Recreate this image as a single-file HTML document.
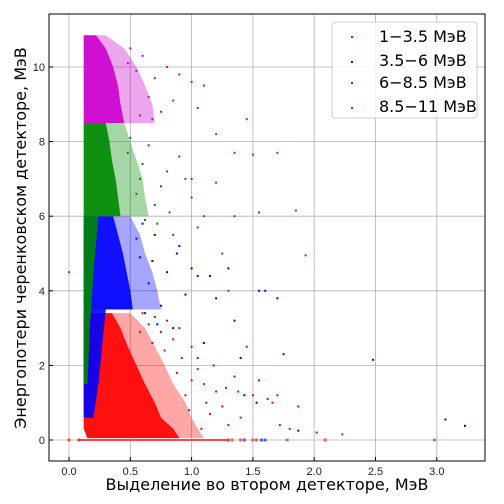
<!DOCTYPE html>
<html><head><meta charset="utf-8"><style>
body{margin:0;background:#fff}
svg{display:block;font-family:"Liberation Sans","DejaVu Sans",sans-serif}
</style></head><body>
<svg id="chart" width="504" height="504" viewBox="0 0 504 504">
<g id="grid"></g>
<g id="marks"></g>
<rect x="49" y="14" width="436" height="447" fill="none" stroke="#000" stroke-width="1"/>
<g id="ticks"></g>
<text x="267" y="490" font-size="16" text-anchor="middle" font-family="DejaVu Sans, sans-serif">Выделение во втором детекторе, МэВ</text>
<text transform="translate(26,238) rotate(-90)" font-size="16" text-anchor="middle" font-family="DejaVu Sans, sans-serif">Энергопотери черенковском детекторе, МэВ</text>
<g>
<rect x="332" y="22" width="145" height="96" rx="3" fill="#fff" fill-opacity="0.85" stroke="#ccc"/>
<g font-size="16" font-family="DejaVu Sans, sans-serif">
<rect x="351" y="36" width="2" height="2" fill="#f00"/>
<text x="379" y="42">1−3.5 МэВ</text>
<rect x="351" y="61" width="2" height="2" fill="#00f"/>
<text x="379" y="66">3.5−6 МэВ</text>
<rect x="351" y="82" width="2" height="2" fill="#080"/>
<text x="379" y="88">6−8.5 МэВ</text>
<rect x="351" y="107" width="2" height="2" fill="#c0c"/>
<text x="379" y="112">8.5−11 МэВ</text>
</g></g>
</svg>
<script>
const xTicks=[0,0.5,1.0,1.5,2.0,2.5,3.0];
const xTickLabels=["0.0","0.5","1.0","1.5","2.0","2.5","3.0"];
const yTicks=[0,2,4,6,8,10];
const yTickLabels=["0","2","4","6","8","10"];
const seriesNames=["red","blue","green","magenta"];
const seriesColors=["#f00","#00f","#080","#c0c"];
const redBandY=[0.05,0.3,0.6,1.0,1.5,2.0,2.5,3.0,3.4];
const redBandLo=[0.15,0.12,0.12,0.12,0.12,0.12,0.12,0.12,0.12];
const redBandHi=[0.9,0.85,0.75,0.7,0.62,0.55,0.48,0.42,0.35];
const redFringeHi=[1.1,1.05,1.0,0.95,0.85,0.78,0.7,0.62,0.5];
const blueBandY=[3.5,4.0,4.5,5.0,5.5,6.0];
const blueBandLo=[0.12,0.12,0.12,0.12,0.12,0.12];
const blueBandHi=[0.52,0.5,0.47,0.44,0.4,0.36];
const blueFringeHi=[0.75,0.72,0.68,0.62,0.58,0.5];
const blueStreakY=[0.6,1.5,2.5,3.5];
const blueStreakLo=[0.12,0.12,0.12,0.12];
const blueStreakHi=[0.2,0.24,0.27,0.3];
const greenBandY=[6.0,6.5,7.0,7.5,8.0,8.5];
const greenBandLo=[0.12,0.12,0.12,0.12,0.12,0.12];
const greenBandHi=[0.42,0.4,0.38,0.35,0.33,0.3];
const greenFringeHi=[0.65,0.62,0.6,0.55,0.5,0.45];
const greenStreakY=[1.5,3.0,4.5,6.0];
const greenStreakLo=[0.12,0.12,0.12,0.12];
const greenStreakHi=[0.15,0.17,0.2,0.24];
const magBandY=[8.5,9.0,9.5,10.0,10.5,10.85];
const magBandLo=[0.12,0.12,0.12,0.12,0.12,0.12];
const magBandHi=[0.45,0.42,0.4,0.36,0.3,0.22];
const magFringeHi=[0.7,0.68,0.62,0.55,0.45,0.3];
const redX=[1.05,1.1,1.2,1.25,1.3,1.35,1.4,1.45,1.5,1.55,1.62,1.7,1.72,1.66,1.8,1.87,2.02,1.0,0.9,1.05,0.95,0.98,1.15,1.08,0.92,0.85,0.8,0.75,0.7,0.65,0.6,1.0,1.12,1.28,0.88,0.78,0.68,0.58,1.18,1.38];
const redY=[1.9,1.5,1.3,0.9,0.4,1.7,0.6,2.5,1.2,1.6,1.1,1.2,0.4,1.0,0.3,0.9,0.2,2.5,3.0,2.2,1.2,0.8,0.7,0.3,2.2,2.7,3.2,2.9,3.3,3.1,3.4,1.6,1.0,1.4,1.8,2.4,2.6,2.9,2.0,1.3];
const blueX=[3.07,3.23,1.87,1.53,1.43,1.7,1.55,1.6,1.75,2.48,1.0,1.05,0.9,1.3,1.35,1.2,1.1,0.85,0.8,0.7,0.65,0.6,0.75,0.95,0.58,0.62,0.68,1.15,1.4,0.55,0.72,0.88];
const blueY=[0.55,0.38,0.25,1.0,1.2,3.8,4.0,4.0,2.3,2.15,4.6,4.4,5.2,4.6,3.2,3.8,2.6,3.0,4.5,5.5,4.2,5.8,3.6,3.9,4.9,3.4,4.8,4.4,2.2,5.4,3.1,5.0];
const greenX=[2.23,1.55,1.35,1.1,1.2,0.95,0.9,1.0,0.85,1.25,1.3,0.8,0.7,0.75,0.65,0.6,0.55,0.5,0.62,0.72,0.82,0.58,0.48,1.05];
const greenY=[0.15,6.1,6.0,6.0,6.9,7.0,7.6,6.5,5.5,5.0,4.0,7.2,6.3,6.8,7.9,7.4,6.6,8.1,5.9,5.8,6.1,7.0,7.7,5.7];
const magX=[1.93,1.85,1.7,1.5,1.35,1.45,1.2,1.0,1.1,0.9,1.05,0.8,0.7,0.75,1.0,0.0,0.6,0.55,0.65,0.5,0.58,0.48,0.85,0.68];
const magY=[4.95,6.15,7.7,7.65,7.7,8.6,8.2,9.6,9.5,9.8,8.9,10.0,9.7,8.8,7.0,4.5,10.3,9.9,9.2,10.5,8.7,10.1,9.1,8.6];
const zeroRowX=[0.0,0.08,1.3,1.33,1.4,1.43,1.5,1.53,1.57,1.6,1.78,2.09,2.98];
const zeroRowC=[0,0,0,0,0,1,0,0,1,1,2,0,3];

const X0=69,XS=122.6,Y0=440,YS=37.3;
const sx=v=>X0+v*XS, sy=v=>Y0-v*YS;
const NS="http://www.w3.org/2000/svg";
const grid=document.getElementById('grid'),ticks=document.getElementById('ticks'),marks=document.getElementById('marks');
function mk(t,a,p){const e=document.createElementNS(NS,t);for(const k in a)e.setAttribute(k,a[k]);p.appendChild(e);return e;}
xTicks.forEach((v,i)=>{
 const l=mk('line',{x1:sx(v),x2:sx(v),y1:14,y2:461,stroke:'#b0b0b0','stroke-width':0.8},grid);
 
 
 const tk=mk('line',{x1:sx(v),x2:sx(v),y1:461,y2:457,stroke:'#000'},ticks);
 
 
 const t=mk('text',{x:sx(v),y:475,'font-size':11,'text-anchor':'middle',fill:'#222'},ticks);
 t.textContent=xTickLabels[i];
 
 
});
yTicks.forEach((v,i)=>{
 const l=mk('line',{x1:49,x2:485,y1:sy(v),y2:sy(v),stroke:'#b0b0b0','stroke-width':0.8},grid);
 
 
 const tk=mk('line',{x1:49,x2:53,y1:sy(v),y2:sy(v),stroke:'#000'},ticks);
 
 
 const t=mk('text',{x:45,y:sy(v)+4,'font-size':11,'text-anchor':'end',fill:'#222'},ticks);
 t.textContent=yTickLabels[i];
 
 
});
function band(ys,lo,hi,c,name,op){
 const pts=[];
 ys.forEach((y,i)=>pts.push(sx(lo[i])+','+sy(y)));
 for(let i=ys.length-1;i>=0;i--)pts.push(sx(hi[i])+','+sy(ys[i]));
 const p=mk('polygon',{points:pts.join(' '),fill:c,'fill-opacity':op},marks);
 
 
}
function pts(xs,ys,c,name){
 xs.forEach((x,i)=>{
  const r=mk('rect',{x:sx(x)-1,y:sy(ys[i])-1,width:2,height:2,fill:c},marks);
  
  
 });
}
const zl=mk('line',{x1:sx(0.08),x2:sx(1.3),y1:sy(0),y2:sy(0),stroke:'#f44','stroke-width':2},marks);


band(redBandY,redBandLo,redFringeHi,seriesColors[0],'red-fringe-region',0.35);
band(redBandY,redBandLo,redBandHi,seriesColors[0],'red-dense-region',0.9);
pts(redX,redY,seriesColors[0],'red-point');
band(blueBandY,blueBandLo,blueFringeHi,seriesColors[1],'blue-fringe-region',0.35);
band(blueBandY,blueBandLo,blueBandHi,seriesColors[1],'blue-dense-region',0.9);
band(blueStreakY,blueStreakLo,blueStreakHi,seriesColors[1],'blue-streak',0.9);
pts(blueX,blueY,seriesColors[1],'blue-point');
band(greenBandY,greenBandLo,greenFringeHi,seriesColors[2],'green-fringe-region',0.35);
band(greenBandY,greenBandLo,greenBandHi,seriesColors[2],'green-dense-region',0.9);
band(greenStreakY,greenStreakLo,greenStreakHi,seriesColors[2],'green-streak',0.9);
pts(greenX,greenY,seriesColors[2],'green-point');
band(magBandY,magBandLo,magFringeHi,seriesColors[3],'magenta-fringe-region',0.35);
band(magBandY,magBandLo,magBandHi,seriesColors[3],'magenta-dense-region',0.9);
pts(magX,magY,seriesColors[3],'magenta-point');
zeroRowX.forEach((x,i)=>{
 const r=mk('rect',{x:sx(x)-1.5,y:sy(0)-1.5,width:3,height:3,fill:seriesColors[zeroRowC[i]],'fill-opacity':0.6},marks);
 
 
});
</script>
</body></html>
